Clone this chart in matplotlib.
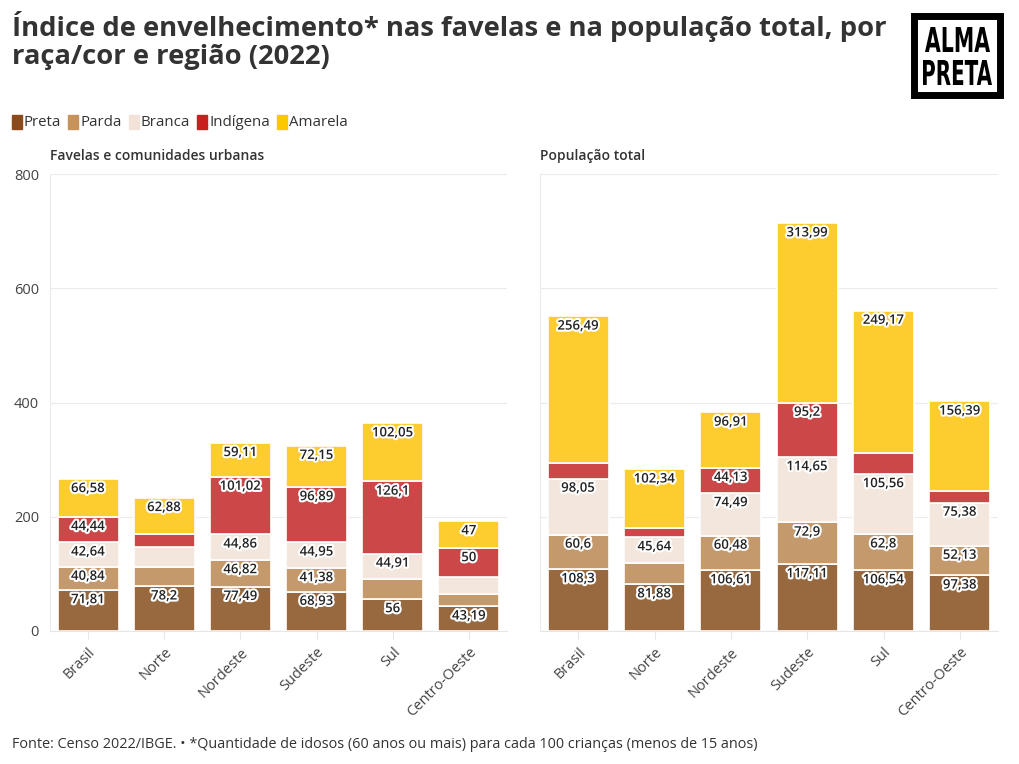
import matplotlib.pyplot as plt
import matplotlib.patheffects as pe
from matplotlib.patches import Rectangle, PathPatch
from matplotlib.textpath import TextPath
from matplotlib.font_manager import FontProperties
from matplotlib.transforms import Affine2D, IdentityTransform
import numpy as np

plt.rcParams["font.family"] = ["Open Sans", "DejaVu Sans"]

# Dados (índice de envelhecimento, 2022)
regioes = ["Brasil", "Norte", "Nordeste", "Sudeste", "Sul", "Centro-Oeste"]
racas = ["Preta", "Parda", "Branca", "Indígena", "Amarela"]

fav_preta = [71.81, 78.2, 77.49, 68.93, 56, 43.19]
fav_parda = [40.84, 34.6, 46.82, 41.38, 34.7, 21.7]
fav_branca = [42.64, 35.1, 44.86, 44.95, 44.91, 30.4]
fav_indigena = [44.44, 22.3, 101.02, 96.89, 126.1, 50]
fav_amarela = [66.58, 62.88, 59.11, 72.15, 102.05, 47]

tot_preta = [108.3, 81.88, 106.61, 117.11, 106.54, 97.38]
tot_parda = [60.6, 36.9, 60.48, 72.9, 62.8, 52.13]
tot_branca = [98.05, 45.64, 74.49, 114.65, 105.56, 75.38]
tot_indigena = [27.3, 16.3, 44.13, 95.2, 36.8, 20.7]
tot_amarela = [256.49, 102.34, 96.91, 313.99, 249.17, 156.39]

cores_barra = ["#98693f", "#c49a6c", "#f3e6dd", "#cc4848", "#fdcd30"]
cores_legenda = ["#8a4a1c", "#c8935a", "#f2e2d8", "#c8201e", "#fcc800"]

fig = plt.figure(figsize=(10.2, 7.64), dpi=100)

W, H = 1020, 764


def px_ax(x0, y0, x1, y1):
    return fig.add_axes([x0 / W, 1 - y1 / H, (x1 - x0) / W, (y1 - y0) / H])


ax1 = px_ax(50, 174, 507, 631)
ax2 = px_ax(540, 174, 998, 631)

paineis = [
    (ax1, [fav_preta, fav_parda, fav_branca, fav_indigena, fav_amarela], "Favelas e comunidades urbanas"),
    (ax2, [tot_preta, tot_parda, tot_branca, tot_indigena, tot_amarela], "População total"),
]

x = np.arange(len(regioes))
for ax, series, titulo in paineis:
    base = np.zeros(len(regioes))
    for vals, cor in zip(series, cores_barra):
        vals = np.array(vals, dtype=float)
        ax.bar(x, vals, bottom=base, width=0.8, color=cor, edgecolor="white",
               linewidth=1.2, zorder=3)
        for xi, b, v in zip(x, base, vals):
            if v >= 40:
                ax.text(xi, b + v - 17, f"{v:g}".replace(".", ","), ha="center",
                        va="center", fontsize=9.5, fontweight="semibold", color="#222222",
                        zorder=5,
                        path_effects=[pe.withStroke(linewidth=3, foreground="white")])
        base += vals

    ax.set_ylim(0, 800)
    ax.set_xlim(-0.5, 5.5)
    ax.set_yticks([0, 200, 400, 600, 800])
    ax.grid(axis="y", color="#ebebeb", linewidth=0.8, zorder=0)
    ax.set_xticks(x)
    ax.set_xticklabels(regioes, rotation=45, ha="right", rotation_mode="anchor",
                       fontsize=10.5, color="#444444")
    ax.tick_params(axis="x", length=6, color="#e6e6e6", pad=4)
    ax.tick_params(axis="y", length=0, labelsize=10.5, labelcolor="#444444", pad=8)
    for s in ["top", "right"]:
        ax.spines[s].set_visible(False)
    ax.spines["left"].set_color("#ebebeb")
    ax.spines["bottom"].set_color("#e6e6e6")
    ax.text(0, 1.025, titulo, transform=ax.transAxes, fontsize=10,
            fontweight="semibold", color="#333333", ha="left", va="bottom")

ax2.set_yticklabels([])

# Título
fig.text(12 / W, 1 - 11 / H,
         "Índice de envelhecimento* nas favelas e na população total, por\nraça/cor e região (2022)",
         fontsize=19.7, fontweight="bold", color="#333333", ha="left", va="top",
         linespacing=1.12)

# Legenda
lx = 12
for nome, cor in zip(racas, cores_legenda):
    fig.patches.append(Rectangle((lx / W, 1 - 129 / H), 10 / W, 14 / H,
                                 transform=fig.transFigure, color=cor))
    t = fig.text((lx + 12) / W, 1 - 122 / H, nome, fontsize=10.8,
                 color="#333333", ha="left", va="center")
    fig.canvas.draw()
    bb = t.get_window_extent()
    lx = bb.x1 + 7

# Logo (texto condensado desenhado como caminho)
fig.patches.append(Rectangle((914 / W, 1 - 95 / H), 86 / W, 79 / H,
                             transform=fig.transFigure, fill=False,
                             edgecolor="black", linewidth=5))
fp = FontProperties(family="DejaVu Sans", weight="bold")
for palavra, (x0, x1, ytop, ybot) in [("ALMA", (925, 990, 27, 52)),
                                       ("PRETA", (923, 992, 60, 85))]:
    tp = TextPath((0, 0), palavra, size=10, prop=fp)
    ext = tp.get_extents()
    sx = (x1 - x0) / ext.width
    sy = (ybot - ytop) / ext.height
    tr = (Affine2D().translate(-ext.x0, -ext.y0).scale(sx, sy)
          .translate(x0, H - ybot) + IdentityTransform())
    fig.patches.append(PathPatch(tp, transform=tr, color="black", lw=0))

# Rodapé
fig.text(12 / W, 1 - 745 / H,
         "Fonte: Censo 2022/IBGE. • *Quantidade de idosos (60 anos ou mais) para cada 100 crianças (menos de 15 anos)",
         fontsize=10.35, color="#333333", ha="left", va="center")

fig.savefig("out.png", dpi=100)
plt.close()
